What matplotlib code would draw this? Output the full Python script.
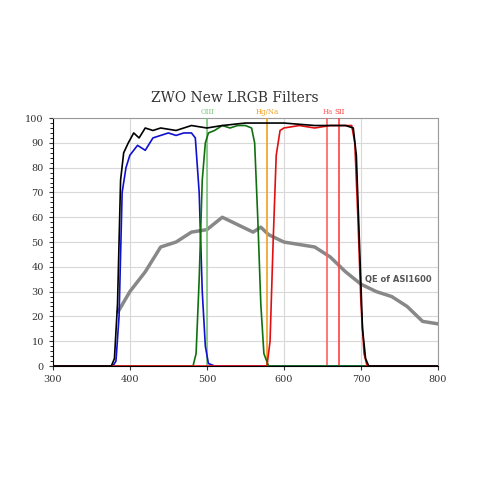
import numpy as np
import matplotlib.pyplot as plt
from matplotlib.ticker import MultipleLocator

# filter transmission curves (wavelength nm, transmission %)
blue_wl = [300, 378, 382, 386, 390, 395, 400, 410, 420, 430, 440, 450, 460, 470, 480, 485, 490, 494, 498, 502, 510, 800]
blue_t = [0, 0, 2, 20, 70, 80, 85, 89, 87, 92, 93, 94, 93, 94, 94, 92, 70, 30, 8, 1, 0, 0]

green_wl = [300, 482, 486, 490, 494, 498, 502, 510, 520, 530, 540, 550, 558, 562, 566, 570, 574, 580, 800]
green_t = [0, 0, 5, 35, 75, 90, 94, 95, 97, 96, 97, 97, 96, 90, 60, 25, 5, 0, 0]

red_wl = [300, 578, 582, 586, 590, 595, 600, 620, 640, 660, 680, 688, 692, 696, 700, 704, 708, 800]
red_t = [0, 0, 10, 50, 85, 95, 96, 97, 96, 97, 97, 97, 90, 60, 25, 5, 0, 0]

lum_wl = [300, 376, 380, 384, 388, 392, 398, 405, 412, 420, 430, 440, 460, 480, 500, 520, 550, 600, 640, 680, 690, 694, 698, 702, 706, 710, 800]
lum_t = [0, 0, 3, 25, 75, 86, 90, 94, 92, 96, 95, 96, 95, 97, 96, 97, 98, 98, 97, 97, 96, 85, 50, 15, 3, 0, 0]

qe_wl = [385, 400, 420, 440, 460, 480, 500, 520, 540, 560, 570, 580, 600, 620, 640, 660, 680, 700, 720, 740, 760, 780, 800]
qe_t = [22, 30, 38, 48, 50, 54, 55, 60, 57, 54, 56, 53, 50, 49, 48, 44, 38, 33, 30, 28, 24, 18, 17]

lines_wl = [500.7, 578, 656.3, 672]
lines_lbl = ["OIII", "Hg/Na", "Ha", "SII"]
lines_col = ["#7cc47c", "#f0a020", "#ff6060", "#ff4040"]

fig = plt.figure(figsize=(4.8, 4.8), dpi=100)
ax = fig.add_axes([0.110, 0.2375, 0.8025, 0.5165])
plt.rcParams['font.family'] = ['DejaVu Serif']

ax.plot(qe_wl, qe_t, color="#888888", lw=2.5, zorder=2)
for wl, lbl, c in zip(lines_wl, lines_lbl, lines_col):
    ax.axvline(wl, color=c, lw=1.2, zorder=3)
    ax.text(wl, 101, lbl, color=c, fontsize=5, ha="center", va="bottom")
ax.plot(blue_wl, blue_t, color="#1010d0", lw=1.2, zorder=4)
ax.plot(green_wl, green_t, color="#107010", lw=1.2, zorder=4)
ax.plot(red_wl, red_t, color="#e01010", lw=1.2, zorder=4)
ax.plot(lum_wl, lum_t, color="black", lw=1.2, zorder=5)

ax.text(705, 33, "QE of ASI1600", fontsize=6, color="#555555", fontweight="bold",
        ha="left", va="bottom", family="DejaVu Sans")

ax.set_xlim(300, 800)
ax.set_ylim(0, 100)
ax.xaxis.set_major_locator(MultipleLocator(100))
ax.yaxis.set_major_locator(MultipleLocator(10))
ax.yaxis.set_minor_locator(MultipleLocator(2))
ax.grid(True, color="#d8d8d8", lw=0.8)
ax.set_axisbelow(True)
ax.tick_params(labelsize=7, colors="#333333", length=3)
ax.tick_params(which="minor", length=2)
for s in ax.spines.values():
    s.set_color("#999999")
ax.spines["left"].set_color("black")
ax.spines["bottom"].set_color("black")
for lbl in ax.get_xticklabels() + ax.get_yticklabels():
    lbl.set_family("DejaVu Serif")

fig.text(0.49, 0.795, "ZWO New LRGB Filters", ha="center", va="center",
         fontsize=10, family="DejaVu Serif", color="#333333")

fig.savefig("out.png", dpi=100)
